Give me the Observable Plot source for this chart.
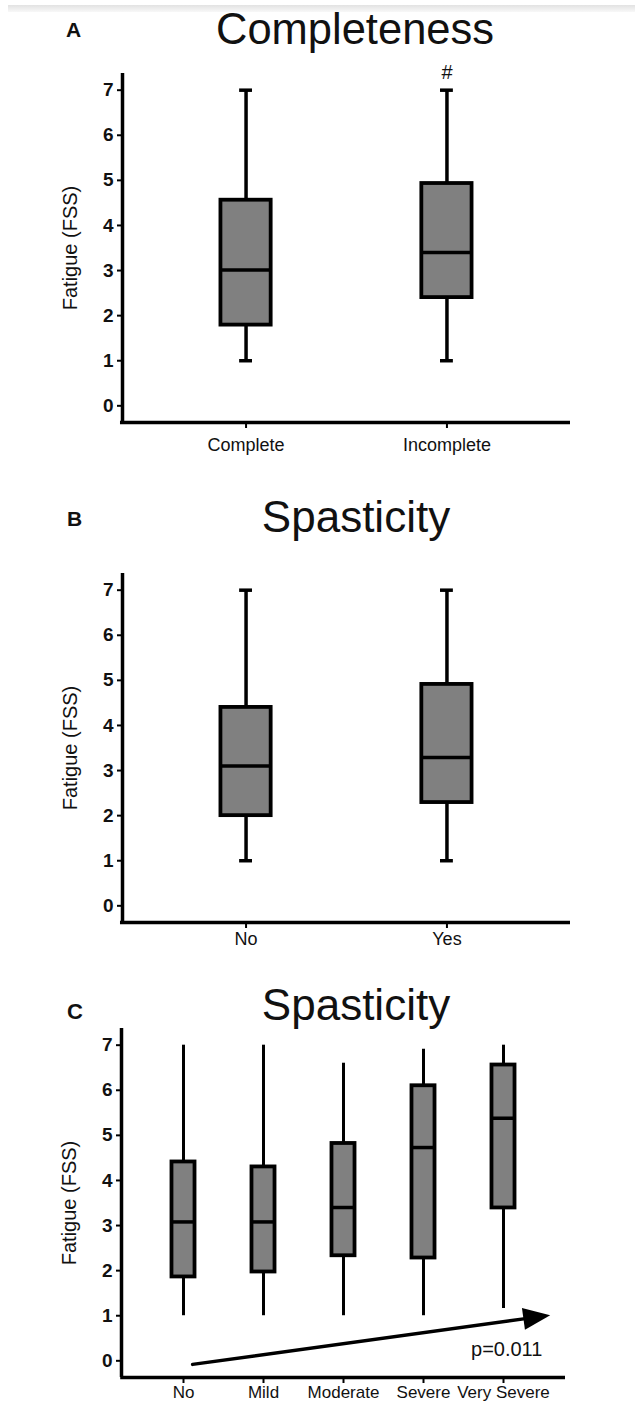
<!DOCTYPE html>
<html>
<head>
<meta charset="utf-8">
<script src="https://cdn.jsdelivr.net/npm/d3@7"></script>
<script src="https://cdn.jsdelivr.net/npm/@observablehq/plot@0.6"></script>
<style>
  html, body { margin: 0; padding: 0; background: #fff; }
  #page { position: relative; width: 635px; height: 1407px; overflow: hidden; background: #fff;
          font-family: "Liberation Sans", Arial, Helvetica, sans-serif; }
  .panel { position: absolute; left: 0; }
  .panel svg { overflow: visible; }
  #topbar { position: absolute; left: 8px; top: 5px; width: 627px; height: 7px;
            background: linear-gradient(#e2e2e2, #f8f8f8); }
  #overlay { position: absolute; left: 0; top: 0; pointer-events: none; }
  .ytick text { font-weight: bold; }
</style>
</head>
<body>
<div id="page">
  <div id="topbar"></div>
</div>
<script>
// ---------------- data ----------------
const yTicks = [0, 1, 2, 3, 4, 5, 6, 7];
const yLabel = "Fatigue (FSS)";

// Panel A: Completeness
const completenessCats = ["Complete", "Incomplete"];
const completenessMin = [1, 1];
const completenessQ1 = [1.79, 2.40];
const completenessMedian = [3.01, 3.40];
const completenessQ3 = [4.56, 4.93];
const completenessMax = [7, 7];
const completenessNote = [{cat: 1, value: 7, text: "#"}];

// Panel B: Spasticity (No / Yes)
const spasticityCats = ["No", "Yes"];
const spasticityMin = [1, 1];
const spasticityQ1 = [2.0, 2.29];
const spasticityMedian = [3.10, 3.29];
const spasticityQ3 = [4.40, 4.91];
const spasticityMax = [7, 7];

// Panel C: Spasticity severity
const severityCats = ["No", "Mild", "Moderate", "Severe", "Very Severe"];
const severityMin = [1, 1, 1, 1, 1.16];
const severityQ1 = [1.86, 1.97, 2.33, 2.28, 3.39];
const severityMedian = [3.08, 3.08, 3.40, 4.73, 5.38];
const severityQ3 = [4.41, 4.30, 4.82, 6.10, 6.56];
const severityMax = [7.0, 7.0, 6.6, 6.91, 7.0];
const severityTrend = [{x1: 0.12, y1: -0.09, x2: 4.59, y2: 1.0}];
const severityP = [{cat: 4.04, value: 0.25, text: "p=0.011"}];

const titles = [
  {label: "A", title: "Completeness"},
  {label: "B", title: "Spasticity"},
  {label: "C", title: "Spasticity"}
];

// ---------------- helpers ----------------
const FONT = '"Liberation Sans", Arial, Helvetica, sans-serif';
const INK = "#000";
const TEXT = "#111";
const Y_DOMAIN = [-0.37, 7.37];

function toRows(cats, mn, q1, md, q3, mx) {
  return cats.map((c, i) => ({i, cat: c, min: mn[i], q1: q1[i], med: md[i], q3: q3[i], max: mx[i]}));
}

function boxPanel(opts) {
  const {cats, rows, top, xPad, marginLeft, marginRight, boxHalf, capHalf,
         tickPadding, xFont, sw, extra = []} = opts;
  const xDomain = [-xPad, cats.length - 1 + xPad];
  const plot = Plot.plot({
    width: 635,
    height: 409,
    marginTop: 12,
    marginBottom: 48,
    marginLeft,
    marginRight,
    style: {fontFamily: FONT, fontSize: "18px", color: TEXT, background: "transparent", overflow: "visible"},
    x: {type: "linear", domain: xDomain},
    y: {domain: Y_DOMAIN},
    marks: [
      Plot.axisY({ticks: yTicks, tickSize: 5, tickPadding: 4, tickFormat: d => String(d),
                  label: null, fontSize: 19, stroke: INK, strokeWidth: 2, className: "ytick"}),
      Plot.axisY({ticks: [], label: yLabel, labelAnchor: "center", labelArrow: "none",
                  labelOffset: 60, fontSize: 20}),
      Plot.axisX({ticks: d3.range(cats.length), tickFormat: i => cats[i], tickSize: 6,
                  tickPadding, label: null, fontSize: xFont, stroke: INK, strokeWidth: 2}),
      Plot.ruleX([xDomain[0]], {y1: Y_DOMAIN[0], y2: Y_DOMAIN[1], stroke: INK, strokeWidth: 3.5}),
      Plot.ruleY([Y_DOMAIN[0]], {x1: xDomain[0] - 0.01, x2: xDomain[1], stroke: INK, strokeWidth: 3.5}),
      Plot.ruleX(rows, {x: "i", y1: "min", y2: "q1", stroke: INK, strokeWidth: sw}),
      Plot.ruleX(rows, {x: "i", y1: "q3", y2: "max", stroke: INK, strokeWidth: sw}),
      capHalf ? Plot.ruleY(rows, {y: "min", x1: d => d.i - capHalf, x2: d => d.i + capHalf, stroke: INK, strokeWidth: sw}) : null,
      capHalf ? Plot.ruleY(rows, {y: "max", x1: d => d.i - capHalf, x2: d => d.i + capHalf, stroke: INK, strokeWidth: sw}) : null,
      Plot.rect(rows, {x1: d => d.i - boxHalf, x2: d => d.i + boxHalf, y1: "q1", y2: "q3",
                       fill: "#808080", stroke: INK, strokeWidth: 3.8}),
      Plot.ruleY(rows, {y: "med", x1: d => d.i - boxHalf, x2: d => d.i + boxHalf, stroke: INK, strokeWidth: 3.5}),
      ...extra
    ]
  });
  const div = document.createElement("div");
  div.className = "panel";
  div.style.top = top + "px";
  div.appendChild(plot);
  document.getElementById("page").appendChild(div);
  return plot;
}

// trend arrow with filled head, drawn through the plot's own scales
function trendArrow(data) {
  return (index, scales) => {
    const g = d3.create("svg:g");
    for (const d of data) {
      const x0 = scales.x(d.x1), y0 = scales.y(d.y1);
      const x1 = scales.x(d.x2), y1 = scales.y(d.y2);
      const len = Math.hypot(x1 - x0, y1 - y0);
      const ux = (x1 - x0) / len, uy = (y1 - y0) / len;
      const L = 27, W = 11;
      const bx = x1 - ux * L, by = y1 - uy * L;
      const nx = -uy, ny = ux;
      g.append("line").attr("x1", x0).attr("y1", y0).attr("x2", bx + ux * 2).attr("y2", by + uy * 2)
        .attr("stroke", INK).attr("stroke-width", 3.5).attr("stroke-linecap", "round");
      g.append("path")
        .attr("d", `M${x1},${y1}L${bx + nx * W},${by + ny * W}L${bx - nx * W},${by - ny * W}Z`)
        .attr("fill", INK);
    }
    return g.node();
  };
}

// ---------------- panels ----------------
boxPanel({
  cats: completenessCats,
  rows: toRows(completenessCats, completenessMin, completenessQ1, completenessMedian, completenessQ3, completenessMax),
  top: 61, xPad: 0.615, marginLeft: 122, marginRight: 65,
  boxHalf: 0.125, capHalf: 0.032, tickPadding: 10, xFont: 18, sw: 3.5,
  extra: [Plot.text(completenessNote, {x: "cat", y: "value", text: "text", dy: -18, fontSize: 20, fill: TEXT})]
});

boxPanel({
  cats: spasticityCats,
  rows: toRows(spasticityCats, spasticityMin, spasticityQ1, spasticityMedian, spasticityQ3, spasticityMax),
  top: 561, xPad: 0.615, marginLeft: 122, marginRight: 65,
  boxHalf: 0.125, capHalf: 0.032, tickPadding: 4, xFont: 18, sw: 3.5
});

boxPanel({
  cats: severityCats,
  rows: toRows(severityCats, severityMin, severityQ1, severityMedian, severityQ3, severityMax),
  top: 1016, xPad: 0.775, marginLeft: 121, marginRight: 70,
  boxHalf: 0.144, capHalf: 0, tickPadding: 2, xFont: 17, sw: 3,
  extra: [
    trendArrow(severityTrend),
    Plot.text(severityP, {x: "cat", y: "value", text: "text", fontSize: 20, fill: TEXT})
  ]
});

// ---------------- titles & panel letters ----------------
const titlePos = [
  {lx: 66, ly: 37, lsize: 21, tx: 355, ty: 44, tsize: 43.5},
  {lx: 67, ly: 526, lsize: 21, tx: 356, ty: 532, tsize: 44},
  {lx: 67, ly: 1019, lsize: 22, tx: 356, ty: 1020, tsize: 44}
];
const overlay = d3.select("#page").append("svg").attr("id", "overlay")
  .attr("width", 635).attr("height", 1407);
titles.forEach((t, k) => {
  const p = titlePos[k];
  overlay.append("text").attr("x", p.lx).attr("y", p.ly).attr("font-family", FONT)
    .attr("font-weight", "bold").attr("font-size", p.lsize).attr("fill", TEXT).text(t.label);
  overlay.append("text").attr("x", p.tx).attr("y", p.ty).attr("text-anchor", "middle")
    .attr("font-family", FONT).attr("font-size", p.tsize).attr("fill", "#111").text(t.title);
});
</script>
</body>
</html>
